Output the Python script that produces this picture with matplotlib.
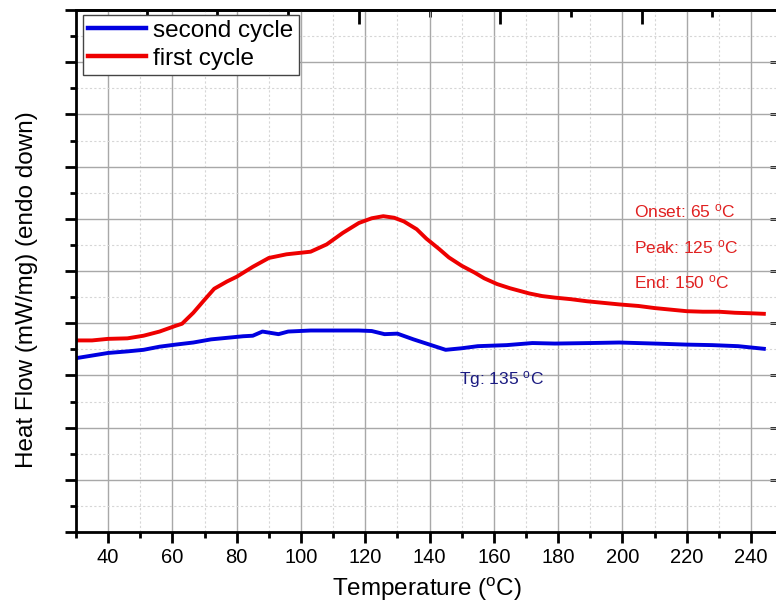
import matplotlib
matplotlib.use("Agg")
import matplotlib.pyplot as plt
from matplotlib.ticker import MultipleLocator, NullFormatter, NullLocator

plt.rcParams['font.family'] = ['Liberation Sans', 'DejaVu Sans']
plt.rcParams['mathtext.fontset'] = 'custom'
plt.rcParams['mathtext.rm'] = 'Liberation Sans'

# first cycle (red)
first_x = [30, 35, 40, 46, 51, 56, 61, 63, 66.5, 70, 73, 77, 80, 85, 90, 95.5, 103, 108,
           113, 118, 122, 125.6, 129, 132, 136, 139, 143, 146, 150, 154, 157, 161, 165,
           168, 171, 175, 179, 184, 189, 194, 199, 205, 210, 215, 220, 225, 230, 235, 240, 244]
first_y = [3.67, 3.67, 3.70, 3.71, 3.76, 3.84, 3.95, 3.99, 4.20, 4.45, 4.66, 4.80, 4.89,
           5.08, 5.25, 5.32, 5.37, 5.51, 5.73, 5.92, 6.01, 6.05, 6.02, 5.95, 5.80, 5.62,
           5.42, 5.26, 5.10, 4.97, 4.86, 4.75, 4.67, 4.62, 4.57, 4.52, 4.49, 4.46, 4.42,
           4.39, 4.36, 4.33, 4.29, 4.26, 4.23, 4.22, 4.22, 4.20, 4.19, 4.18]

# second cycle (blue)
second_x = [30, 35, 40, 46, 51, 56, 61, 66.5, 72, 77, 82, 85, 88, 93, 96, 103, 110, 118,
            122, 126, 130, 135, 140, 145, 150, 155, 164, 172, 179, 190, 199, 210, 220,
            228, 236, 244]
second_y = [3.33, 3.38, 3.43, 3.46, 3.49, 3.55, 3.59, 3.63, 3.69, 3.72, 3.75, 3.76, 3.84,
            3.79, 3.84, 3.86, 3.86, 3.86, 3.85, 3.79, 3.80, 3.69, 3.59, 3.49, 3.52, 3.56,
            3.58, 3.62, 3.61, 3.62, 3.63, 3.61, 3.59, 3.58, 3.56, 3.51]

x_ticks = [40, 60, 80, 100, 120, 140, 160, 180, 200, 220, 240]
top_major = [74, 118, 162, 206]
top_minor = [52, 96, 140, 184, 228]

fig = plt.figure(figsize=(7.76, 6.05), dpi=100)
ax = fig.add_axes([76 / 776, 1 - 532 / 605, 702 / 776, 522 / 605])

ax.plot(second_x, second_y, color='#0000e0', lw=2.8, label='second cycle')
ax.plot(first_x, first_y, color='#ee0000', lw=2.8, label='first cycle')

ax.set_xlim(30, 248.4)
ax.set_ylim(0, 10)
ax.set_xticks(x_ticks)
ax.xaxis.set_minor_locator(MultipleLocator(10))
ax.yaxis.set_major_locator(MultipleLocator(1))
ax.yaxis.set_minor_locator(MultipleLocator(0.5))
ax.yaxis.set_major_formatter(NullFormatter())

ax.grid(True, which='major', color='#a8a8a8', lw=1.0)
ax.grid(True, which='minor', color='#d6d6d6', lw=0.8, linestyle=(0, (2, 2)))
ax.set_axisbelow(True)

for s in ax.spines.values():
    s.set_linewidth(2)
ax.tick_params(which='major', direction='out', length=8, width=2, labelsize=14.5)
ax.tick_params(which='minor', direction='out', length=4.5, width=2)

top = ax.secondary_xaxis('top')
top.set_xticks(top_major)
top.set_xticks(top_minor, minor=True)
top.tick_params(which='major', direction='in', length=10, width=2, labeltop=False)
top.tick_params(which='minor', direction='in', length=5, width=2)
top.spines['top'].set_linewidth(2)

right = ax.secondary_yaxis('right')
right.yaxis.set_major_locator(MultipleLocator(1))
right.yaxis.set_minor_locator(NullLocator())
right.tick_params(which='major', direction='in', length=6, width=2, labelright=False)

ax.set_xlabel('Temperature ($\\mathrm{^{o}}$C)', fontsize=17.5, labelpad=6)
ax.set_ylabel('Heat Flow (mW/mg) (endo down)', fontsize=17.5)
ax.yaxis.set_label_coords(-0.054, 0.465)

ax.text(203.6, 6.14, 'Onset: 65 $\\mathrm{^{o}}$C', color='#e02020', fontsize=12.5, va='center')
ax.text(203.6, 5.45, 'Peak: 125 $\\mathrm{^{o}}$C', color='#e02020', fontsize=12.5, va='center')
ax.text(203.6, 4.78, 'End: 150 $\\mathrm{^{o}}$C', color='#e02020', fontsize=12.5, va='center')
ax.text(149.1, 2.92, 'Tg: 135 $\\mathrm{^{o}}$C', color='#1a1a80', fontsize=12.5, va='center')

leg = ax.legend(loc='upper left', bbox_to_anchor=(7 / 702, 1 - 5 / 522), borderaxespad=0,
                fontsize=17.5, handlelength=2.4, handletextpad=0.3, labelspacing=0.25,
                borderpad=0.2, fancybox=False, framealpha=1)
leg.get_frame().set_edgecolor('#444444')
leg.get_frame().set_linewidth(1)
for line in leg.get_lines():
    line.set_linewidth(3.2)

fig.savefig('out.png', dpi=100)
